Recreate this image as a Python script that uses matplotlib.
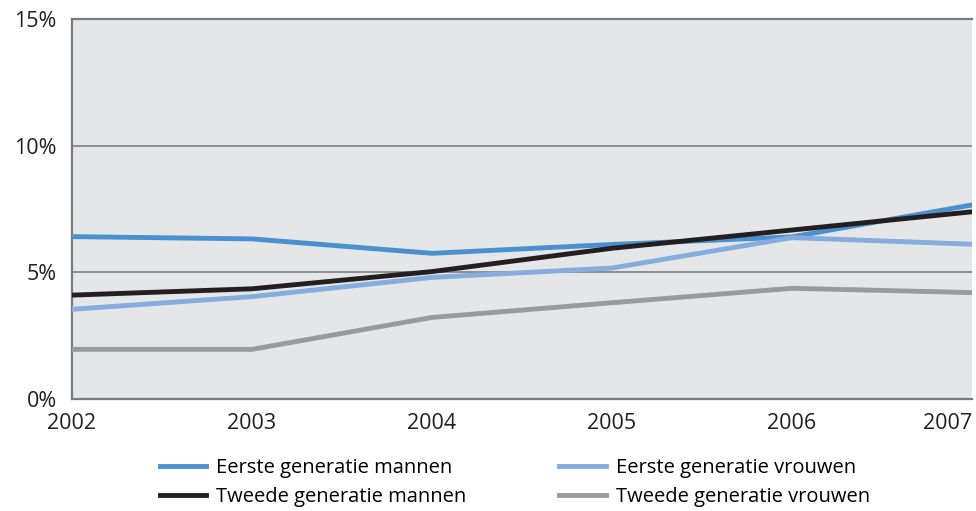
import matplotlib.pyplot as plt
from matplotlib.ticker import FuncFormatter

plt.rcParams['font.family'] = ['Open Sans', 'DejaVu Sans']

# Data
years = [2002, 2003, 2004, 2005, 2006, 2007]
eerste_mannen = [6.41, 6.32, 5.75, 6.1, 6.4, 7.66]
eerste_vrouwen = [3.54, 4.04, 4.80, 5.17, 6.37, 6.11]
tweede_mannen = [4.10, 4.35, 5.03, 5.95, 6.67, 7.39]
tweede_vrouwen = [1.96, 1.96, 3.22, 3.8, 4.37, 4.20]

labels = ["Eerste generatie mannen", "Eerste generatie vrouwen",
          "Tweede generatie mannen", "Tweede generatie vrouwen"]
y_ticks = [0, 5, 10, 15]

fig = plt.figure(figsize=(9.76, 5.11), dpi=100)
ax = fig.add_axes([72 / 976, 1 - 399 / 511, 900 / 976, 380 / 511])
ax.set_facecolor('#e5e6e8')

for y in y_ticks[1:-1]:
    ax.axhline(y, color='#7f7f7f', lw=1.2, zorder=1)

l1, = ax.plot(years, eerste_mannen, color='#4a8fce', lw=3.5, zorder=3)
l2, = ax.plot(years, eerste_vrouwen, color='#84acdc', lw=3.5, zorder=3)
l3, = ax.plot(years, tweede_mannen, color='#231f20', lw=3.5, zorder=4)
l4, = ax.plot(years, tweede_vrouwen, color='#999a9c', lw=3.5, zorder=3)

ax.set_xlim(2002, 2007)
ax.set_ylim(0, 15)
ax.set_yticks(y_ticks)
ax.yaxis.set_major_formatter(FuncFormatter(lambda v, p: f"{int(v)}%"))
ax.set_xticks(years)
ax.tick_params(length=0, labelsize=15.5, colors='#231f20')
ax.tick_params(axis='y', pad=11)
ax.tick_params(axis='x', pad=10)
# last year label sits flush with the right edge
ax.get_xticklabels()[-1].set_horizontalalignment('right')

for side in ['left', 'bottom', 'top']:
    ax.spines[side].set_color('#7a7a7d')
    ax.spines[side].set_linewidth(1.6)
ax.spines['right'].set_visible(False)

fig.legend([l1, l3, l2, l4], [labels[0], labels[2], labels[1], labels[3]],
           ncol=2, loc='upper left', bbox_to_anchor=(150 / 976, 1 - 448 / 511),
           frameon=False, fontsize=14.5, handlelength=2.3, handletextpad=0.5,
           columnspacing=4.6, labelspacing=0.45, borderpad=0)

fig.savefig('out.png', dpi=100)
